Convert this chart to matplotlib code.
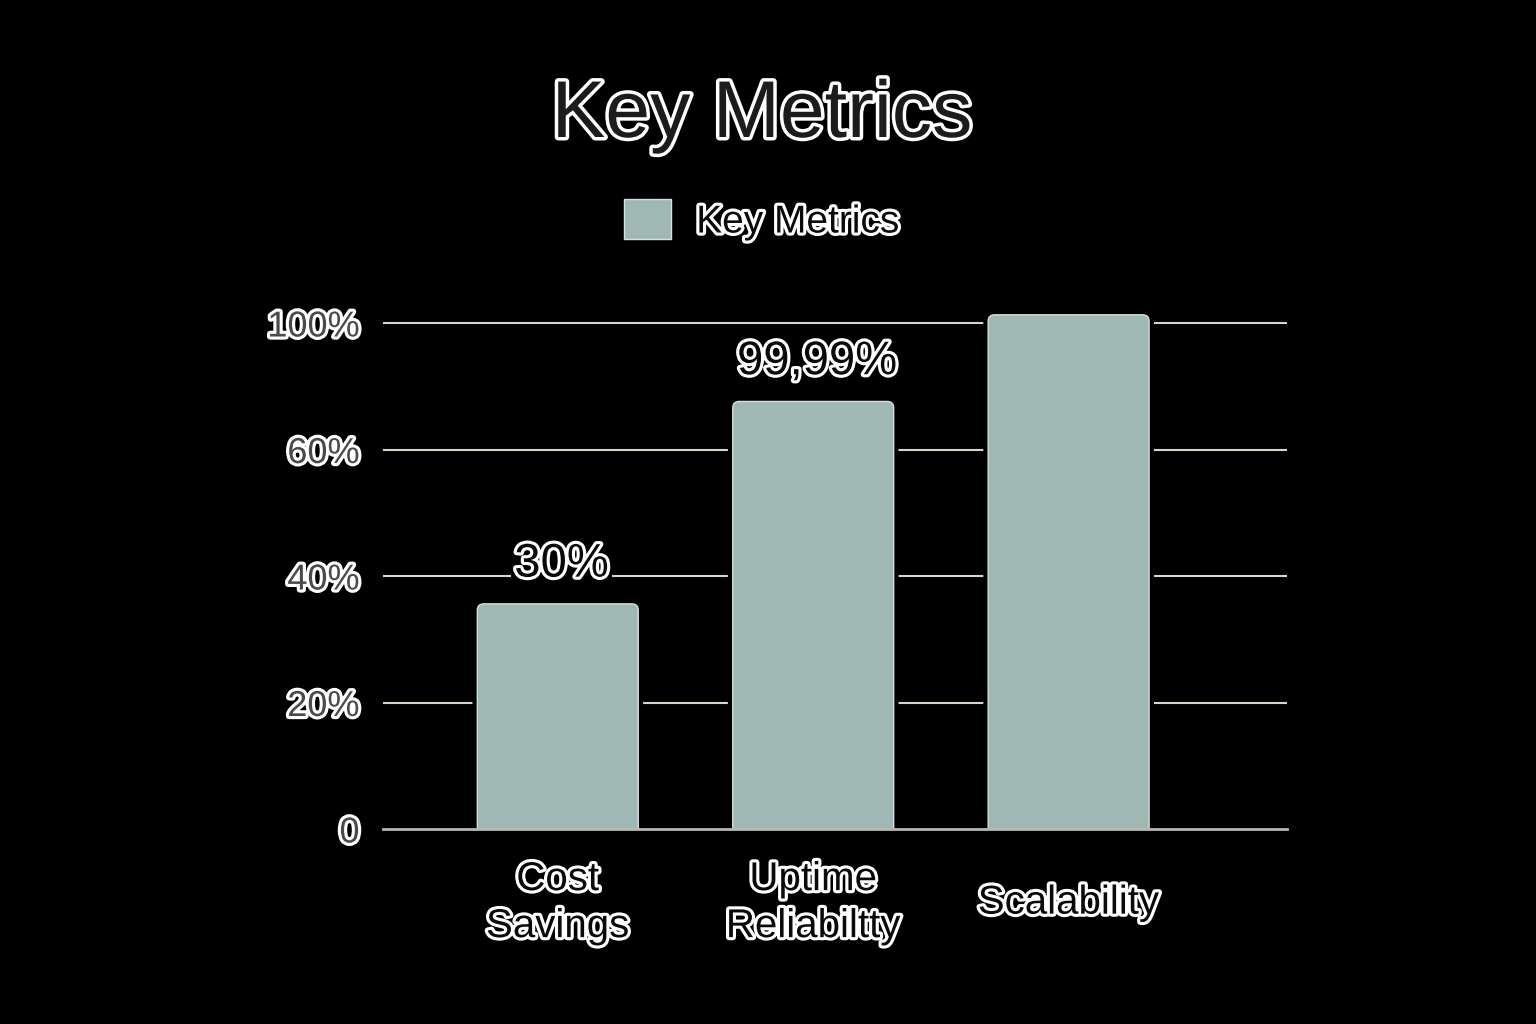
import matplotlib
matplotlib.use("Agg")
import matplotlib.pyplot as plt
import matplotlib.patheffects as pe
from matplotlib.patches import FancyBboxPatch, Patch

# --- data (bar heights in the chart's own scale; top tick labelled "100%") ---
CATEGORIES = ["Cost\nSavings", "Uptime\nReliabiltty", "Scalability"]
VALUES = [35.6, 67.6, 81.3]
VALUE_LABELS = ["30%", "99,99%", ""]
TICKS = [0, 20, 40, 60, 80]
TICK_LABELS = ["0", "20%", "40%", "60%", "100%"]
TITLE = "Key Metrics"
LEGEND_LABEL = "Key Metrics"

# --- style ---
BG = "#000000"
BAR_COLOR = "#9fb8b4"
BAR_EDGE = "#d5dfdc"
GRID_COLOR = "#d9d5cc"
BASE_COLOR = "#b8b8b4"
FONT = ["Liberation Sans", "DejaVu Sans"]
STROKE = 4.5

plt.rcParams["font.family"] = FONT


def outlined(fill, width=STROKE):
    return dict(color=fill, path_effects=[pe.withStroke(linewidth=width, foreground="white")])


fig = plt.figure(figsize=(15.36, 10.24), dpi=100, facecolor=BG)
ax = fig.add_axes([0.2494, 0.1904, 0.5885, 0.5065], facecolor=BG)
ax.set_xlim(-0.684, 2.855)
ax.set_ylim(0, 82)

for t in TICKS[1:]:
    ax.axhline(t, color=GRID_COLOR, linewidth=1.5, zorder=1)

x = list(range(len(CATEGORIES)))
bars = ax.bar(x, VALUES, width=0.63, bottom=0)
# swap the plain bars for rounded ones with a black halo that cuts the grid
for b in bars:
    bx, bw, bh = b.get_x(), b.get_width(), b.get_height()
    b.remove()
    kw = dict(boxstyle="round,pad=0,rounding_size=0.025", mutation_aspect=40.3)
    ax.add_patch(FancyBboxPatch((bx, -3), bw, bh + 3, facecolor=BG, edgecolor=BG,
                                linewidth=7, zorder=2, **kw))
    ax.add_patch(FancyBboxPatch((bx, -3), bw, bh + 3, facecolor=BAR_COLOR,
                                edgecolor=BAR_EDGE, linewidth=1.0, zorder=3, **kw))

for xi, v, lab in zip(x, VALUES, VALUE_LABELS):
    if lab:
        ax.text(xi + 0.015, v + 6.2, lab, ha="center", va="center", fontsize=34, zorder=4,
                bbox=dict(facecolor=BG, edgecolor="none", pad=2),
                **outlined("#0a0a0a"))

ax.set_yticks(TICKS)
ax.set_yticklabels(TICK_LABELS)
ax.set_xticks(x)
ax.set_xticklabels(CATEGORIES)
ax.tick_params(axis="both", length=0)
ax.tick_params(axis="y", pad=17, labelsize=26)
ax.tick_params(axis="x", pad=53, labelsize=29)
for lbl in ax.get_yticklabels():
    lbl.set_color("#4a4a4a")
    lbl.set_path_effects([pe.withStroke(linewidth=STROKE, foreground="white")])
for lbl in ax.get_xticklabels():
    lbl.set_color("#0a0a0a")
    lbl.set_va("center")
    lbl.set_linespacing(1.3)
    lbl.set_path_effects([pe.withStroke(linewidth=STROKE, foreground="white")])

for s in ["top", "right", "left"]:
    ax.spines[s].set_visible(False)
ax.spines["bottom"].set_color(BASE_COLOR)
ax.spines["bottom"].set_linewidth(2)
ax.spines["bottom"].set_zorder(5)

fig.text(0.496, 1 - 116 / 1024, TITLE, ha="center", va="center", fontsize=58,
         **outlined("#1c1c1c", 5))

leg = fig.legend(handles=[Patch(facecolor=BAR_COLOR, edgecolor=BAR_EDGE, label=LEGEND_LABEL)],
                 loc="center", bbox_to_anchor=(0.496, 1 - 220 / 1024), frameon=False,
                 fontsize=28, handlelength=1.2, handleheight=1.2, handletextpad=0.65)
for t in leg.get_texts():
    t.set_color("#0a0a0a")
    t.set_path_effects([pe.withStroke(linewidth=STROKE, foreground="white")])

fig.savefig("out.png", dpi=100, facecolor=BG)
